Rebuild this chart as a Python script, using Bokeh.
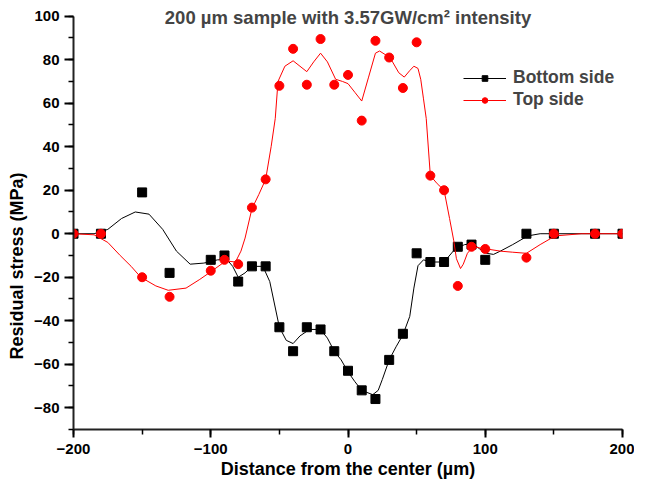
from bokeh.plotting import figure
from bokeh.models import Range1d, Label, SingleIntervalTicker, Title
from bokeh.embed import file_html
from bokeh.resources import INLINE

# measured points
x_pts = [-200, -180, -150, -130, -100, -90, -80, -70, -60, -50, -40, -30, -20, -10, 0,
         10, 20, 30, 40, 50, 60, 70, 80, 90, 100, 130, 150, 180, 200]
bottom_pts = [0, 0, 19, -18, -12, -10, -22, -15, -15, -43, -54, -43, -44, -54, -63,
              -72, -76, -58, -46, -9, -13, -13, -6, -5, -12, 0, 0, 0, 0]
top_pts = [0, 0, -20, -29, -17, -12, -14, 12, 25, 68, 85, 68.5, 89.5, 68.5, 73,
           52, 88.7, 81, 67, 88, 26.7, 20, -24, -6, -7, -11, 0, 0, 0]

# fitted (smoothed) curves
bottom_fit_x = [-200, -185, -175, -165, -155, -145, -135, -125, -115, -105, -95, -88, -84, -80,
                -75, -70, -62, -57, -50, -45, -40, -35, -28, -20, -15, -10, -5, 0, 5, 10, 18,
                22, 25, 30, 35, 40, 45, 48, 51, 55, 60, 70, 78, 85, 91, 96, 101, 106, 111, 120,
                131, 140, 151, 200]
bottom_fit_y = [0, 0, 2, 7, 10, 9, 2, -8, -14, -13.5, -12, -12, -15, -20,
                -18, -15, -15, -22, -43, -49, -50.5, -47, -44, -44, -48, -54, -58, -63.5, -68, -72, -74,
                -72, -67, -58, -52, -46.5, -38, -25, -14.7, -12, -13, -13, -7, -5, -4.6, -7, -9, -9.5, -8, -5,
                -1, 0, 0, 0]
top_fit_x = [-200, -185, -175, -166, -158, -151, -140, -131, -118, -108, -100, -89, -82, -78, -75,
             -70, -65, -60, -56, -53, -51, -46, -40, -35, -30, -25, -20, -15, -9, -4, 0, 5, 10,
             15, 20, 23, 28, 32, 37, 41, 45, 48, 51, 53, 55, 57, 60, 65, 70, 74, 77, 79, 82, 84,
             87, 91, 96, 101, 111, 120, 130, 140, 151, 170, 200]
top_fit_y = [0, -0.5, -4, -10, -15, -20, -24, -26, -25, -21, -17.5, -12.5, -13, -8, -2,
             11.5, 18, 25, 40, 53, 70, 77, 79.5, 77, 74.5, 79, 83, 79, 71, 70, 69, 65, 61,
             72, 83, 84, 82, 79.5, 74, 72, 75, 77, 76, 71, 62, 53, 26.7, 23, 20, 7, -3, -11.5, -16, -14,
             -9, -6, -6.5, -7, -8, -8.5, -9, -5, -1, 0, 0]

FONT = "Liberation Sans"

p = figure(frame_width=549, frame_height=422, output_backend="svg", toolbar_location=None,
           x_range=Range1d(-200, 200), y_range=Range1d(-90, 104),
           min_border_left=70, min_border_right=12, min_border_top=7, min_border_bottom=0)
p.outline_line_color = None
p.xgrid.visible = False
p.ygrid.visible = False

p.line(bottom_fit_x, bottom_fit_y, line_color="black", line_width=1, legend_label="Bottom side")
p.scatter(x_pts, bottom_pts, marker="square", size=9, fill_color="black", line_color="black",
          legend_label="Bottom side")
p.line(top_fit_x, top_fit_y, line_color="red", line_width=1, legend_label="Top side")
p.scatter(x_pts, top_pts, marker="circle", size=9, fill_color="red", line_color="red",
          legend_label="Top side")

for ax in (p.xaxis[0], p.yaxis[0]):
    ax.axis_line_color = "#222222"
    ax.axis_line_width = 2
    ax.major_tick_line_width = 2
    ax.minor_tick_line_width = 1.5
    ax.major_tick_in = 0
    ax.minor_tick_in = 0
    ax.major_label_text_font = FONT
    ax.major_label_text_font_style = "bold"
    ax.major_label_text_font_size = "15px"
    ax.major_label_text_color = "black"
    ax.axis_label_text_font = FONT
    ax.axis_label_text_font_style = "bold"
    ax.axis_label_text_font_size = "18px"
    ax.axis_label_text_color = "black"

p.yaxis.bounds = (-90, 100)
p.xaxis.ticker = SingleIntervalTicker(interval=100, num_minor_ticks=2)
p.yaxis.ticker = SingleIntervalTicker(interval=20, num_minor_ticks=2)
p.xaxis.major_tick_out = 8
p.xaxis.minor_tick_out = 5
p.yaxis.major_tick_out = 9
p.yaxis.minor_tick_out = 5
p.xaxis.major_label_standoff = 6
p.yaxis.major_label_standoff = 5
p.xaxis.axis_label = "Distance from the center (\u00b5m)"
p.xaxis.axis_label_standoff = 2

ylab = Title(text="Residual stress (MPa)", align="left", text_font=FONT,
             text_font_style="bold", text_font_size="18px", text_color="black",
             standoff=9, offset=70)
p.add_layout(ylab, "left")

title = Label(x=0, y=99.5, text="200 \u00b5m sample with 3.57GW/cm\u00b2 intensity",
              text_font=FONT, text_font_style="bold", text_font_size="18.5px",
              text_align="center", text_baseline="middle")
p.add_layout(title)

leg = p.legend[0]
leg.location = (390, 319)
leg.border_line_color = None
leg.background_fill_alpha = 0
leg.label_text_font = FONT
leg.label_text_font_style = "bold"
leg.label_text_font_size = "17.5px"
leg.glyph_width = 43
leg.glyph_height = 14
leg.padding = 0
leg.spacing = 1
leg.label_standoff = 7

open("out.html", "w").write(file_html(p, INLINE))
